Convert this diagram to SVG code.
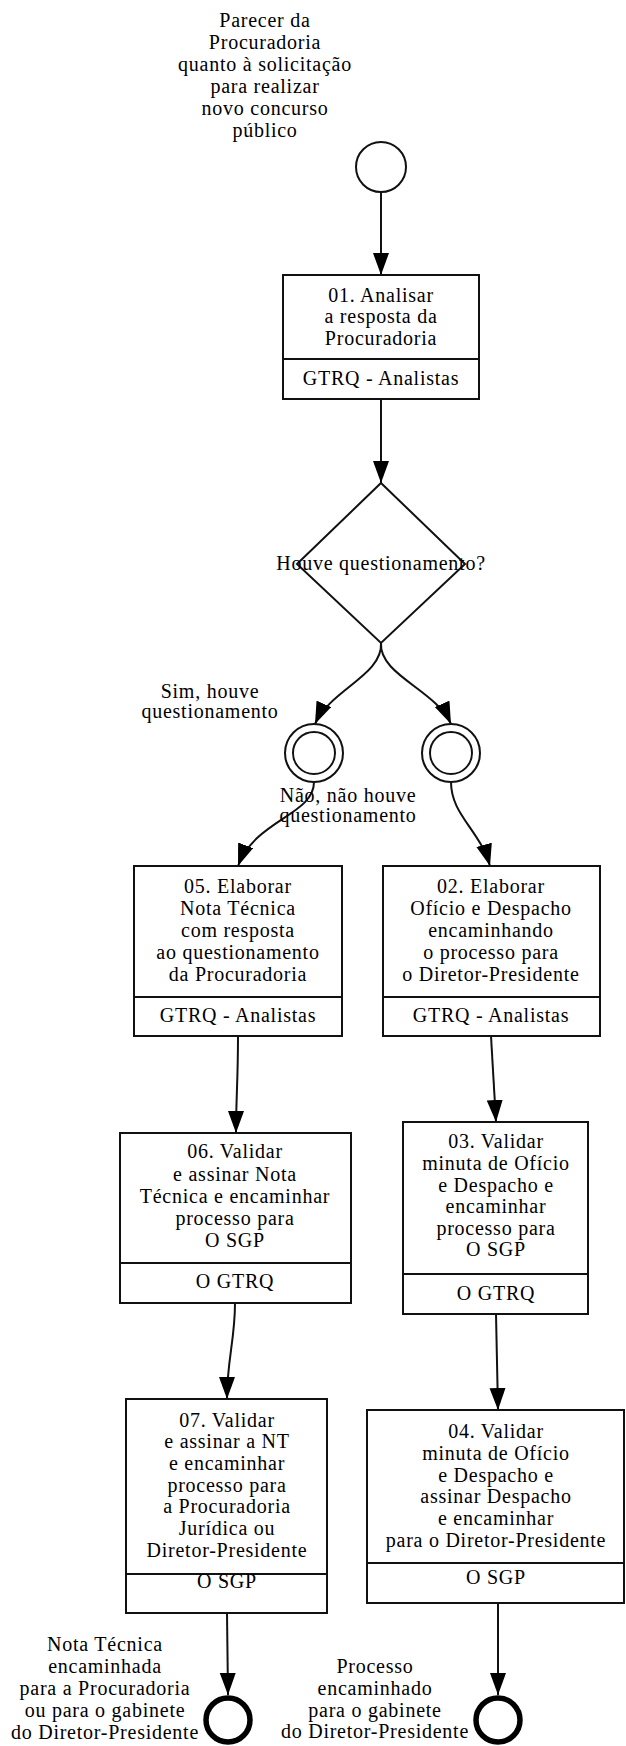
<svg xmlns="http://www.w3.org/2000/svg" width="626" height="1746" viewBox="0 0 626 1746">
<style>
text{font-family:"Liberation Serif","Times New Roman",serif;font-size:20px;fill:#000;text-anchor:middle;letter-spacing:0.75px}
.box{fill:#fff;stroke:#111;stroke-width:2}
.sep{stroke:#111;stroke-width:2}
.edge{fill:none;stroke:#111;stroke-width:2}
.ev{fill:#fff;stroke:#111;stroke-width:2}
.end{fill:#fff;stroke:#000;stroke-width:5.5}
</style>
<defs>
<marker id="arr" markerUnits="userSpaceOnUse" markerWidth="23" markerHeight="17" refX="22" refY="8" orient="auto">
<path d="M0,0 L22,8 L0,16 z" fill="#000"/>
</marker>
</defs>
<g id="connectors">
<path class="edge" d="M381,192 L381,275" marker-end="url(#arr)"/>
<path class="edge" d="M381,399 L381,483" marker-end="url(#arr)"/>
<path class="edge" d="M381,643 C383,675 330,690 315,724" marker-end="url(#arr)"/>
<path class="edge" d="M381,643 C379,675 436,690 451,724" marker-end="url(#arr)"/>
<path class="edge" d="M314,782 C314,815 255,820 238,866" marker-end="url(#arr)"/>
<path class="edge" d="M451,782 C451,815 480,830 490,866" marker-end="url(#arr)"/>
<path class="edge" d="M238,1036 C238,1080 236,1100 236,1133" marker-end="url(#arr)"/>
<path class="edge" d="M491,1036 L496,1122" marker-end="url(#arr)"/>
<path class="edge" d="M235,1303 C235,1340 227,1360 227,1399" marker-end="url(#arr)"/>
<path class="edge" d="M496,1314 L498,1410" marker-end="url(#arr)"/>
<path class="edge" d="M227,1613 L228,1695" marker-end="url(#arr)"/>
<path class="edge" d="M498,1603 L498,1695" marker-end="url(#arr)"/>
<text x="210" y="698">Sim, houve</text>
<text x="210" y="718">questionamento</text>
<text x="348" y="802">Não, não houve</text>
<text x="348" y="822">questionamento</text>
</g>
<g id="start">
<circle class="ev" cx="381" cy="167" r="25"/>
<text x="265" y="27">Parecer da</text>
<text x="265" y="49">Procuradoria</text>
<text x="265" y="71">quanto à solicitação</text>
<text x="265" y="93">para realizar</text>
<text x="265" y="115">novo concurso</text>
<text x="265" y="137">público</text>
</g>
<g id="n01">
<rect class="box" x="283" y="275" width="196" height="124"/>
<line class="sep" x1="283" y1="359" x2="479" y2="359"/>
<text x="381" y="302">01. Analisar</text>
<text x="381" y="323">a resposta da</text>
<text x="381" y="345">Procuradoria</text>
<text x="381" y="385">GTRQ - Analistas</text>
</g>
<g id="gateway">
<polygon class="ev" points="381,483 465,564 381,643 297,564"/>
<text x="381" y="570">Houve questionamento?</text>
</g>
<g id="mid-left">
<circle class="ev" cx="314" cy="753" r="29"/>
<circle class="ev" cx="314" cy="753" r="21"/>
</g>
<g id="mid-right">
<circle class="ev" cx="451" cy="753" r="29"/>
<circle class="ev" cx="451" cy="753" r="21"/>
</g>
<g id="n05">
<rect class="box" x="134" y="866" width="208" height="170"/>
<line class="sep" x1="134" y1="997" x2="342" y2="997"/>
<text x="238" y="893">05. Elaborar</text>
<text x="238" y="915">Nota Técnica</text>
<text x="238" y="937">com resposta</text>
<text x="238" y="959">ao questionamento</text>
<text x="238" y="981">da Procuradoria</text>
<text x="238" y="1022">GTRQ - Analistas</text>
</g>
<g id="n02">
<rect class="box" x="383" y="866" width="217" height="170"/>
<line class="sep" x1="383" y1="997" x2="600" y2="997"/>
<text x="491" y="893">02. Elaborar</text>
<text x="491" y="915">Ofício e Despacho</text>
<text x="491" y="937">encaminhando</text>
<text x="491" y="959">o processo para</text>
<text x="491" y="981">o Diretor-Presidente</text>
<text x="491" y="1022">GTRQ - Analistas</text>
</g>
<g id="n06">
<rect class="box" x="120" y="1133" width="231" height="170"/>
<line class="sep" x1="120" y1="1263" x2="351" y2="1263"/>
<text x="235" y="1158">06. Validar</text>
<text x="235" y="1181">e assinar Nota</text>
<text x="235" y="1203">Técnica e encaminhar</text>
<text x="235" y="1225">processo para</text>
<text x="235" y="1247">O SGP</text>
<text x="235" y="1288">O GTRQ</text>
</g>
<g id="n03">
<rect class="box" x="403" y="1122" width="185" height="192"/>
<line class="sep" x1="403" y1="1274" x2="588" y2="1274"/>
<text x="496" y="1148">03. Validar</text>
<text x="496" y="1170">minuta de Ofício</text>
<text x="496" y="1192">e Despacho e</text>
<text x="496" y="1213">encaminhar</text>
<text x="496" y="1235">processo para</text>
<text x="496" y="1256">O SGP</text>
<text x="496" y="1300">O GTRQ</text>
</g>
<g id="n07">
<rect class="box" x="126" y="1399" width="201" height="214"/>
<line class="sep" x1="126" y1="1574" x2="327" y2="1574"/>
<text x="227" y="1427">07. Validar</text>
<text x="227" y="1448">e assinar a NT</text>
<text x="227" y="1470">e encaminhar</text>
<text x="227" y="1492">processo para</text>
<text x="227" y="1513">a Procuradoria</text>
<text x="227" y="1535">Jurídica ou</text>
<text x="227" y="1557">Diretor-Presidente</text>
<text x="227" y="1588">O SGP</text>
</g>
<g id="n04">
<rect class="box" x="367" y="1410" width="257" height="193"/>
<line class="sep" x1="367" y1="1563" x2="624" y2="1563"/>
<text x="496" y="1438">04. Validar</text>
<text x="496" y="1460">minuta de Ofício</text>
<text x="496" y="1482">e Despacho e</text>
<text x="496" y="1503">assinar Despacho</text>
<text x="496" y="1525">e encaminhar</text>
<text x="496" y="1547">para o Diretor-Presidente</text>
<text x="496" y="1584">O SGP</text>
</g>
<g id="end-left">
<circle class="end" cx="228" cy="1720" r="22"/>
<text x="105" y="1651">Nota Técnica</text>
<text x="105" y="1673">encaminhada</text>
<text x="105" y="1695">para a Procuradoria</text>
<text x="105" y="1717">ou para o gabinete</text>
<text x="105" y="1739">do Diretor-Presidente</text>
</g>
<g id="end-right">
<circle class="end" cx="498" cy="1720" r="22"/>
<text x="375" y="1673">Processo</text>
<text x="375" y="1695">encaminhado</text>
<text x="375" y="1717">para o gabinete</text>
<text x="375" y="1738">do Diretor-Presidente</text>
</g>
</svg>
